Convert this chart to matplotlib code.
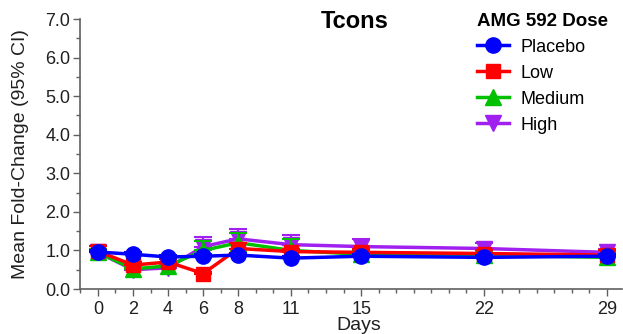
import matplotlib
matplotlib.use("Agg")
import matplotlib.pyplot as plt
import numpy as np
from matplotlib.ticker import MultipleLocator

plt.rcParams['font.family'] = ['Liberation Sans', 'DejaVu Sans']

days = [0, 2, 4, 6, 8, 11, 15, 22, 29]
groups = ["Placebo", "Low", "Medium", "High"]
placebo = [0.96, 0.90, 0.83, 0.85, 0.88, 0.80, 0.85, 0.82, 0.85]
low = [0.98, 0.62, 0.70, 0.40, 1.05, 0.97, 0.95, 0.92, 0.88]
medium = [0.95, 0.52, 0.60, 1.00, 1.20, 1.00, 0.90, 0.88, 0.82]
high = [0.95, 0.50, 0.55, 1.10, 1.30, 1.15, 1.10, 1.05, 0.95]
placebo_up = [1.02, 0.95, 0.88, 0.90, 0.93, 0.85, 0.90, 0.87, 0.90]
low_up = [1.12, 0.70, 0.78, 0.45, 1.20, 1.05, 1.05, 1.02, 1.00]
medium_up = [1.05, 0.58, 0.68, 1.25, 1.45, 1.30, 1.00, 0.98, 0.90]
high_up = [1.05, 0.55, 0.62, 1.35, 1.55, 1.40, 1.30, 1.20, 1.05]
ytick_labels = ["0.0", "1.0", "2.0", "3.0", "4.0", "5.0", "6.0", "7.0"]

fig = plt.figure(figsize=(6.23, 3.34), dpi=100)
ax = fig.add_axes([80/623, 1-289/334, 1-80/623-0.002, (289-19)/334])

series = [
    ("High", high, high_up, "#A020F0", "v", 11),
    ("Medium", medium, medium_up, "#00C000", "^", 11),
    ("Low", low, low_up, "#FF0000", "s", 9.5),
    ("Placebo", placebo, placebo_up, "#0000FF", "o", 11),
]
handles = {}
for i, (name, vals, up, col, mk, ms) in enumerate(series):
    vals = np.array(vals); up = np.array(up)
    ax.errorbar(days, vals, yerr=[np.zeros_like(vals), up - vals], fmt='none',
                ecolor=col, elinewidth=1.5, capsize=6.5, capthick=1.5, zorder=2 + i)
    h, = ax.plot(days, vals, color=col, marker=mk, markersize=ms, linewidth=2.5,
                 zorder=2.5 + i, clip_on=False)
    handles[name] = h

ax.set_ylim(0, 7)
ax.set_xlim(-1.02, 29.85)
ax.set_yticks(np.arange(0, 8, 1.0))
ax.set_yticklabels(ytick_labels)
ax.set_xticks(days)
ax.xaxis.set_minor_locator(MultipleLocator(1))
ax.yaxis.set_minor_locator(MultipleLocator(0.5))
for s in ["top", "right"]:
    ax.spines[s].set_visible(False)
for s in ["left", "bottom"]:
    ax.spines[s].set_color("#606060")
    ax.spines[s].set_linewidth(1.2)
ax.tick_params(axis='both', which='major', length=5, width=1, color="#606060",
               labelsize=13, labelcolor="#202020")
ax.tick_params(axis='both', which='minor', length=3, width=1, color="#606060")
ax.tick_params(axis='x', pad=4)
ax.tick_params(axis='y', pad=2)

ax.set_ylabel("Mean Fold-Change (95% CI)", fontsize=14, color="#202020", va='center')
ax.yaxis.set_label_coords(-60/542, 0.5)
ax.set_xlabel("Days", fontsize=14, color="#202020", va='center')
ax.xaxis.set_label_coords((359-80)/542, (289-326)/270)
fig.text(355/623, 1-21/334, "Tcons", fontsize=17, fontweight='bold', ha='center', va='center')

leg = ax.legend([handles[g] for g in groups], groups, title="AMG 592 Dose",
                loc='upper left', bbox_to_anchor=(464/623, 1.0), bbox_transform=fig.transFigure,
                frameon=False, fontsize=13, handlelength=1.8, handletextpad=0.65,
                labelspacing=0.5, borderaxespad=0.3)
leg.get_title().set_fontweight('bold')
leg.get_title().set_fontsize(13.5)
leg._legend_box.align = "left"

fig.savefig("out.png", dpi=100)
